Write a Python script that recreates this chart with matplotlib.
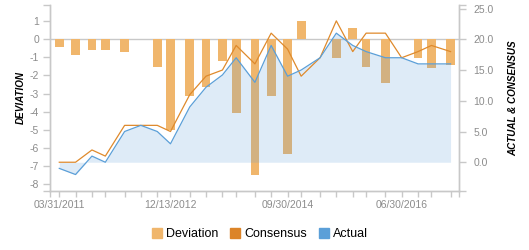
import numpy as np
import pandas as pd
import matplotlib
matplotlib.use('Agg')
import matplotlib.pyplot as plt
import matplotlib.dates as mdates
from matplotlib.patches import Patch

plt.rcParams['font.family'] = ['Liberation Sans', 'DejaVu Sans']

dates = ['2011-03-31', '2011-06-30', '2011-09-30', '2011-12-14', '2012-03-31',
         '2012-06-30', '2012-09-30', '2012-12-13', '2013-03-31', '2013-06-30',
         '2013-09-30', '2013-12-16', '2014-03-31', '2014-06-30', '2014-09-30',
         '2014-12-15', '2015-03-31', '2015-06-30', '2015-09-30', '2015-12-14',
         '2016-03-31', '2016-06-30', '2016-09-30', '2016-12-14', '2017-03-31']
deviation = [-0.4, -0.85, -0.57, -0.57, -0.68, 0, -1.52, -5.02, -3.12, -2.62,
             -1.2, -4.06, -7.49, -3.12, -6.35, 1.01, 0, -1.02, 0.61, -1.52,
             -2.4, 0, -1.02, -1.59, -1.41]
consensus = [0, 0, 2, 1, 6, 6, 6, 5, 11, 14, 15, 19, 16, 21, 18.4, 14, 17, 23,
             18, 21, 21, 17, 18, 19, 18]
actual = [-1, -2, 1, 0, 5, 6, 5, 3, 9, 12.2, 14.2, 17, 13, 19, 14, 15, 17, 21,
          19, 18, 17, 17, 16, 16, 16]
label_dates = ['03/31/2011', '12/13/2012', '09/30/2014', '06/30/2016']

c_dev = '#f0b66c'
c_cons = '#df8a2c'
c_act = '#5b9fd8'
grey = '#c8c8c8'
txt = '#8c8c8c'

d = pd.to_datetime(dates)
x = mdates.date2num(d)

fig = plt.figure(figsize=(5.29, 2.5), dpi=100)
ax = fig.add_axes([50/529, 59.3/250, 409.3/529, 185.7/250])
ax2 = ax.twinx()

ax.bar(x, deviation, width=49, color=c_dev, zorder=1)
ax.axhline(0, color=grey, lw=1, zorder=0.5)

ax2.fill_between(x, actual, 0, color=c_act, alpha=0.2, lw=0, zorder=1)
ax2.plot(x, consensus, color=c_cons, lw=0.9, zorder=2)
ax2.plot(x, actual, color=c_act, lw=0.9, zorder=3)

x0 = mdates.date2num(pd.Timestamp('2011-03-31'))
ax.set_xlim(x0 - 52, x0 + 2241)
ax.set_ylim(-8.38, 1.9)
ax2.set_ylim(-4.63, 25.58)

lo, hi = ax.get_ylim()
ax.set_yticks([lo] + list(range(-8, 2)) + [hi])
ax.set_yticklabels([''] + [str(v) for v in range(-8, 2)] + [''])
lo2, hi2 = ax2.get_ylim()
ax2.set_yticks([lo2, 0, 5, 10, 15, 20, 25, hi2])
ax2.set_yticklabels(['', '0.0', '5.0', '10.0', '15.0', '20.0', '25.0', ''])

ax.set_xticks(list(x) + list(ax.get_xlim()))
labels = [''] * (len(x) + 2)
for i, s in enumerate(pd.to_datetime(label_dates, format='%m/%d/%Y')):
    k = list(d).index(s)
    labels[k] = label_dates[i]
ax.set_xticklabels(labels)

for a in (ax, ax2):
    for s in a.spines.values():
        s.set_color(grey)
        s.set_linewidth(1)
    a.spines['top'].set_visible(False)
    a.tick_params(colors=grey, labelcolor=txt, labelsize=7.5, length=5, width=1)
ax.tick_params(axis='y', pad=3)
ax2.tick_params(axis='y', pad=5)
ax.tick_params(axis='x', length=4, pad=3)

ax.set_ylabel('DEVIATION', fontsize=7.1, fontweight='bold', style='italic', labelpad=2.5)
ax2.set_ylabel('ACTUAL & CONSENSUS', fontsize=7.1, fontweight='bold', style='italic', labelpad=10.5)

handles = [Patch(color=c_dev), Patch(color='#dc8428'), Patch(color=c_act)]
fig.legend(handles, ['Deviation', 'Consensus', 'Actual'], loc='center',
           bbox_to_anchor=(260/529, 0.063), ncol=3, frameon=False, fontsize=9,
           handlelength=0.8, handleheight=0.8, handletextpad=0.38, columnspacing=0.9)

fig.savefig('out.png', dpi=100)
